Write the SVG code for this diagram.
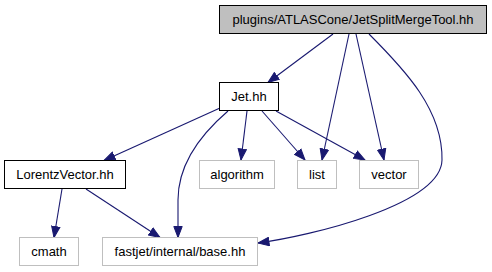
<svg xmlns="http://www.w3.org/2000/svg" width="492" height="272" viewBox="0 0 492 272">
<style>
  .n rect { stroke-width: 1; }
  .main rect { fill: #bfbfbf; stroke: #000; }
  .dark rect { fill: #fff; stroke: #000; }
  .light rect { fill: #fff; stroke: #bfbfbf; }
  text { font-family: "Liberation Sans", Arial, sans-serif; font-size: 13px; fill: #000; text-anchor: middle; }
  .e path { fill: none; stroke: #191970; stroke-width: 1.1; marker-end: url(#arr); }
</style>
<defs>
  <marker id="arr" markerUnits="userSpaceOnUse" markerWidth="12" markerHeight="10" viewBox="0 0 12 10" refX="11.5" refY="5" orient="auto">
    <path d="M0.5,0.8 L11.5,5 L0.5,9.2 Z" fill="#191970" stroke="#191970" stroke-width="1"/>
  </marker>
</defs>
<rect width="492" height="272" fill="#fff"/>
<g id="edges" class="e">
  <path d="M333,34 L268,82.5"/>
  <path d="M349,34 L322,160"/>
  <path d="M356,34 L384,160"/>
  <path d="M369,34 C405,70 443,110 442,160 C441,205 310,236 258,243"/>
  <path d="M220,108 L104,160.5"/>
  <path d="M228,111 C200,135 178,165 178,200 L178,237.5"/>
  <path d="M247,111 L241,160"/>
  <path d="M262,111 L305,160"/>
  <path d="M276,111 L365,160"/>
  <path d="M62,189 L54,237.5"/>
  <path d="M86,189 L160,237.5"/>
</g>
<g id="node-main" class="n main">
  <rect x="219.5" y="5.5" width="267" height="28"/>
  <text x="353" y="24">plugins/ATLASCone/JetSplitMergeTool.hh</text>
</g>
<g id="node-jet" class="n dark">
  <rect x="219.5" y="82.5" width="59" height="28"/>
  <text x="249" y="101">Jet.hh</text>
</g>
<g id="node-lorentz" class="n dark">
  <rect x="4.5" y="160.5" width="121" height="28"/>
  <text x="65" y="179">LorentzVector.hh</text>
</g>
<g id="node-algorithm" class="n light">
  <rect x="199.5" y="160.5" width="75" height="28"/>
  <text x="237" y="179">algorithm</text>
</g>
<g id="node-list" class="n light">
  <rect x="297.5" y="160.5" width="39" height="28"/>
  <text x="317" y="179">list</text>
</g>
<g id="node-vector" class="n light">
  <rect x="359.5" y="160.5" width="59" height="28"/>
  <text x="389" y="179">vector</text>
</g>
<g id="node-cmath" class="n light">
  <rect x="19.5" y="237.5" width="59" height="28"/>
  <text x="49" y="256">cmath</text>
</g>
<g id="node-base" class="n light">
  <rect x="102.5" y="237.5" width="155" height="28"/>
  <text x="180" y="256">fastjet/internal/base.hh</text>
</g>
</svg>
